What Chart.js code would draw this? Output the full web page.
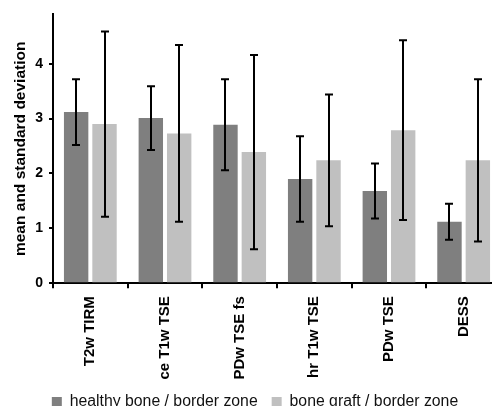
<!DOCTYPE html>
<html>
<head>
<meta charset="utf-8">
<script src="https://cdn.jsdelivr.net/npm/chart.js@4.4.1/dist/chart.umd.min.js"></script>
<style>
  html, body { margin: 0; padding: 0; background: #fff; overflow: hidden; }
  #wrap { width: 502px; height: 420px; }
</style>
</head>
<body>
<div id="wrap"><canvas id="chart" width="502" height="420"></canvas></div>
<script>
// sequences on the x axis
const categories = ['T2w TIRM', 'ce T1w TSE', 'PDw TSE fs', 'hr T1w TSE', 'PDw TSE', 'DESS'];
const seriesNames = ['healthy bone / border zone', 'bone graft / border zone'];

// means
const healthyMean = [3.12, 3.01, 2.89, 1.90, 1.68, 1.12];
const graftMean = [2.90, 2.73, 2.39, 2.24, 2.79, 2.24];

// standard deviations (error bars)
const healthySd = [0.60, 0.58, 0.83, 0.78, 0.50, 0.33];
const graftSd = [1.69, 1.61, 1.77, 1.20, 1.64, 1.48];

const yTicks = [0, 1, 2, 3, 4];

const FONT = "'Liberation Sans', Arial, Helvetica, sans-serif";

// draws the sd whiskers on top of each bar
const errorBars = {
    id: 'errorBars',
    afterDatasetsDraw(chart) {
        const ctx = chart.ctx;
        const y = chart.scales.y;
        const sds = [healthySd, graftSd];
        ctx.save();
        ctx.strokeStyle = '#000';
        ctx.lineWidth = 2;
        chart.data.datasets.forEach((ds, i) => {
            const meta = chart.getDatasetMeta(i);
            meta.data.forEach((bar, j) => {
                const hi = y.getPixelForValue(ds.data[j] + sds[i][j]);
                const lo = y.getPixelForValue(ds.data[j] - sds[i][j]);
                const x = Math.round(bar.x);
                ctx.beginPath();
                ctx.moveTo(x, hi);
                ctx.lineTo(x, lo);
                ctx.moveTo(x - 4, hi);
                ctx.lineTo(x + 4, hi);
                ctx.moveTo(x - 4, lo);
                ctx.lineTo(x + 4, lo);
                ctx.stroke();
            });
        });
        ctx.restore();
    }
};

const ctx = document.getElementById('chart').getContext('2d');
new Chart(ctx, {
    type: 'bar',
    data: {
        labels: categories,
        datasets: [{
            label: seriesNames[0],
            data: healthyMean,
            backgroundColor: '#7f7f7f',
            categoryPercentage: 0.76,
            barPercentage: 0.86
        }, {
            label: seriesNames[1],
            data: graftMean,
            backgroundColor: '#c0c0c0',
            categoryPercentage: 0.76,
            barPercentage: 0.86
        }]
    },
    options: {
        responsive: false,
        animation: false,
        layout: { padding: { left: 9, right: 1, top: 13, bottom: 0 } },
        plugins: {
            tooltip: { enabled: false },
            legend: {
                position: 'bottom',
                labels: {
                    boxWidth: 10,
                    boxHeight: 10,
                    padding: 14,
                    color: '#111',
                    font: { family: FONT, size: 15.8 }
                }
            }
        },
        scales: {
            x: {
                border: { color: '#000', width: 2 },
                grid: { display: true, drawOnChartArea: false, drawTicks: true, tickLength: 5, color: '#000', lineWidth: 2 },
                afterFit(scale) {
                    scale.height = 97;
                },
                ticks: {
                    minRotation: 90,
                    maxRotation: 90,
                    padding: 8,
                    color: '#000',
                    font: { family: FONT, size: 15, weight: 'bold' }
                }
            },
            y: {
                min: 0,
                max: 4.9,
                border: { color: '#000', width: 2 },
                grid: { display: true, drawOnChartArea: false, drawTicks: true, tickLength: 4, color: '#000', lineWidth: 2 },
                afterBuildTicks(scale) {
                    scale.ticks = yTicks.map(v => ({ value: v }));
                },
                afterFit(scale) {
                    scale.width = 44;
                },
                ticks: {
                    padding: 6,
                    color: '#000',
                    font: { family: FONT, size: 14, weight: 'bold' }
                },
                title: {
                    display: true,
                    text: 'mean and standard deviation',
                    color: '#000',
                    padding: { top: 2, bottom: 0 },
                    font: { family: FONT, size: 15.5, weight: 'bold' }
                }
            }
        }
    },
    plugins: [errorBars]
});
</script>
</body>
</html>
